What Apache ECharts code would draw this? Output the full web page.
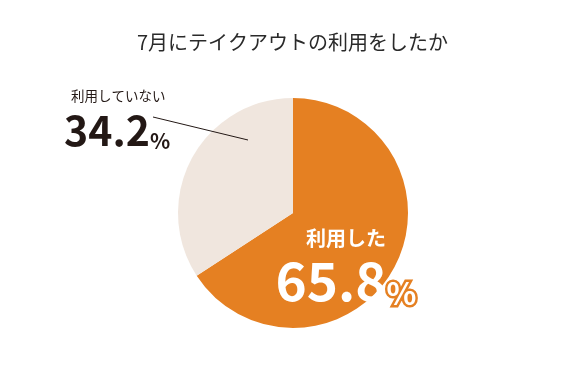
<!DOCTYPE html>
<html><head><meta charset="utf-8">
<script src="https://cdn.jsdelivr.net/npm/echarts@6/dist/echarts.min.js"></script>
<style>html,body{margin:0;padding:0;background:#fff}#c{width:585px;height:387px}</style>
</head><body><div id="c"></div>
<script>
var titleText = '7月にテイクアウトの利用をしたか';
var categories = ['利用した', '利用していない'];
var values = [65.8, 34.2];
var colors = ['#E58022', '#F0E6DE'];

var FONT = '"Noto Sans CJK JP", "Noto Sans", sans-serif';
var chart = echarts.init(document.getElementById('c'), null, {renderer: 'canvas'});

var labelCfg = [
  { // 利用した (inside, white)
    show: true, position: 'inside', color: '#fff', align: 'center',
    formatter: function (p) { return '{name|' + p.name + '}\n{val|' + p.value.toFixed(1) + '}{pct|%}'; },
    rich: {
      name: {fontFamily: FONT, fontSize: 20, fontWeight: 'bold', color: '#fff', lineHeight: 30},
      val: {fontFamily: FONT, fontSize: 53, fontWeight: 'bold', color: '#fff', lineHeight: 56},
      pct: {fontFamily: FONT, fontSize: 31, fontWeight: 'bold', color: '#fff', lineHeight: 56, verticalAlign: 'bottom',
            textBorderColor: '#E58022', textBorderWidth: 5}
    }
  },
  { // 利用していない (outside, dark)
    show: true, position: 'outside', color: '#231815', align: 'left',
    formatter: function (p) { return '{name|' + p.name + '}\n{val|' + p.value.toFixed(1) + '}{pct|%}'; },
    rich: {
      name: {fontFamily: FONT, fontSize: 13.5, color: '#231815', lineHeight: 24, padding: [0, 0, 0, 7]},
      val: {fontFamily: FONT, fontSize: 41, fontWeight: 'bold', color: '#231815', lineHeight: 44},
      pct: {fontFamily: FONT, fontSize: 21, fontWeight: 'bold', color: '#231815', lineHeight: 44, verticalAlign: 'bottom'}
    }
  }
];

var data = categories.map(function (c, i) {
  return {
    name: c, value: values[i],
    itemStyle: {color: colors[i]},
    label: labelCfg[i],
    labelLine: {show: false}
  };
});

chart.setOption({
  animation: false,
  backgroundColor: '#fff',
  title: {
    text: titleText, left: 'center', top: 27,
    textStyle: {fontFamily: FONT, fontSize: 20, fontWeight: 'normal', color: '#2a2a2a'}
  },
  graphic: [{
    type: 'line', z: 100,
    shape: {x1: 153, y1: 117, x2: 248, y2: 140},
    style: {stroke: '#231815', lineWidth: 1}
  }],
  series: [{
    type: 'pie',
    center: [293, 213],
    radius: [0, 115],
    startAngle: 90,
    clockwise: true,
    data: data,
    labelLayout: function (p) {
      if (p.dataIndex === 0) {
        return {x: 346, y: 223, align: 'center', verticalAlign: 'top'};
      }
      return {x: 64, y: 84, align: 'left', verticalAlign: 'top'};
    }
  }]
});
</script></body></html>
